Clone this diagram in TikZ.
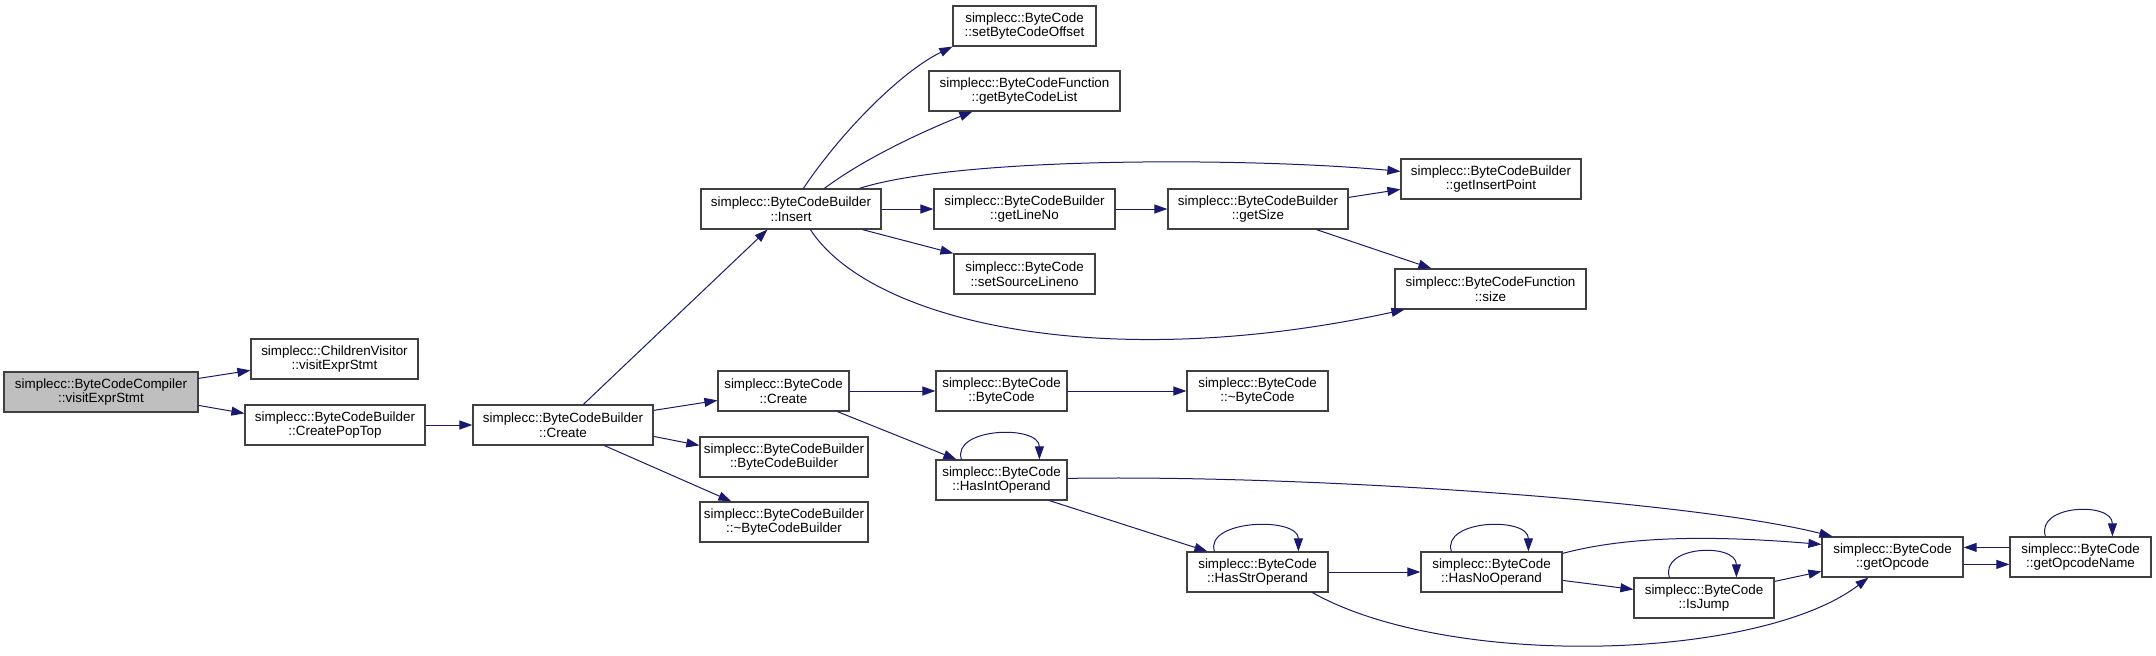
\documentclass[tikz,border=0pt]{standalone}
\usepackage{fontspec}
\setmainfont{Liberation Sans}
\usetikzlibrary{arrows.meta,calc}
\definecolor{edgeblue}{HTML}{191970}
\definecolor{boxline}{HTML}{404040}
\definecolor{boxfill}{HTML}{BFBFBF}
\begin{document}
\begin{tikzpicture}[x=1pt,y=-1pt,
  fn/.style={draw=boxline, line width=1.2pt, fill=white, rectangle, inner sep=0pt,
    minimum height=40pt, align=center, font=\fontsize{13.4}{14.6}\selectfont},
  cl/.style={draw=edgeblue, line width=1pt, -{Triangle[length=13pt,width=9pt]}}]
\useasboundingbox (0,0) rectangle (2156,656);
% nodes
\node[fn, fill=boxfill, minimum width=194pt] (cmp) at (101,392) {simplecc::ByteCodeCompiler\\::visitExprStmt};
\node[fn, minimum width=167pt] (cv) at (334.5,359) {simplecc::ChildrenVisitor\\::visitExprStmt};
\node[fn, minimum width=180pt] (cpt) at (335,425) {simplecc::ByteCodeBuilder\\::CreatePopTop};
\node[fn, minimum width=180pt] (bcr) at (563,425) {simplecc::ByteCodeBuilder\\::Create};
\node[fn, minimum width=180pt] (ins) at (791,209) {simplecc::ByteCodeBuilder\\::Insert};
\node[fn, minimum width=131pt] (bcc) at (783.5,391) {simplecc::ByteCode\\::Create};
\node[fn, minimum width=168pt] (bbb) at (784,457) {simplecc::ByteCodeBuilder\\::ByteCodeBuilder};
\node[fn, minimum width=168pt] (dbb) at (784,522) {simplecc::ByteCodeBuilder\\::\textasciitilde ByteCodeBuilder};
\node[fn, minimum width=143pt] (off) at (1024.5,26) {simplecc::ByteCode\\::setByteCodeOffset};
\node[fn, minimum width=191pt] (gbl) at (1024.5,91) {simplecc::ByteCodeFunction\\::getByteCodeList};
\node[fn, minimum width=181pt] (gln) at (1024.5,209) {simplecc::ByteCodeBuilder\\::getLineNo};
\node[fn, minimum width=141pt] (ssl) at (1024.5,274) {simplecc::ByteCode\\::setSourceLineno};
\node[fn, minimum width=131pt] (bcb) at (1001.5,391) {simplecc::ByteCode\\::ByteCode};
\node[fn, minimum width=131pt] (hio) at (1001.5,480) {simplecc::ByteCode\\::HasIntOperand};
\node[fn, minimum width=180pt] (gsz) at (1258,209) {simplecc::ByteCodeBuilder\\::getSize};
\node[fn, minimum width=141pt] (dbc) at (1257.5,391) {simplecc::ByteCode\\::\textasciitilde ByteCode};
\node[fn, minimum width=141pt] (hso) at (1257.5,572) {simplecc::ByteCode\\::HasStrOperand};
\node[fn, minimum width=180pt] (gip) at (1491,179) {simplecc::ByteCodeBuilder\\::getInsertPoint};
\node[fn, minimum width=191pt] (sz) at (1490.5,289) {simplecc::ByteCodeFunction\\::size};
\node[fn, minimum width=141pt] (hno) at (1491.5,572) {simplecc::ByteCode\\::HasNoOperand};
\node[fn, minimum width=140pt] (ij) at (1704,598) {simplecc::ByteCode\\::IsJump};
\node[fn, minimum width=141pt] (gop) at (1892.5,557) {simplecc::ByteCode\\::getOpcode};
\node[fn, minimum width=141pt] (gon) at (2080.5,557) {simplecc::ByteCode\\::getOpcodeName};
% edges
\draw[cl] ($(cmp.north east)+(0,7)$) -- ($(cv.north west)+(0,32)$);
\draw[cl] ($(cmp.north east)+(0,34)$) -- ($(cpt.north west)+(0,9)$);
\draw[cl] (cpt.east) -- (bcr.west);
\draw[cl] ($(bcr.north west)+(111,0)$) -- ($(ins.south west)+(67,0)$);
\draw[cl] ($(bcr.north east)+(0,6)$) -- ($(bcc.north west)+(0,30)$);
\draw[cl] ($(bcr.north east)+(0,32)$) -- ($(bbb.north west)+(0,9)$);
\draw[cl] ($(bcr.south west)+(132,0)$) -- ($(dbb.north west)+(32,0)$);
\draw[cl] ($(ins.north west)+(103,0)$) .. controls +(36,-54) and +(-53,26) .. (off.south west);
\draw[cl] ($(ins.north west)+(124,0)$) .. controls +(40,-30) and +(-50,20) .. ($(gbl.south west)+(44,0)$);
\draw[cl] ($(ins.north west)+(159,0)$) .. controls +(100,-32) and +(-151,-14) .. ($(gip.north west)+(0,13)$);
\draw[cl] (ins.east) -- (gln.west);
\draw[cl] ($(ins.south west)+(162,0)$) -- (ssl.north west);
\draw[cl] ($(ins.south west)+(110,0)$) .. controls +(59,91) and +(-305,66) .. ($(sz.south west)+(10,0)$);
\draw[cl] (gln.east) -- (gsz.west);
\draw[cl] ($(gsz.north east)+(0,9)$) -- ($(gip.north west)+(0,31)$);
\draw[cl] ($(gsz.south west)+(149,0)$) -- ($(sz.north west)+(37,0)$);
\draw[cl] (bcc.east) -- (bcb.west);
\draw[cl] (bcb.east) -- (dbc.west);
\draw[cl] ($(bcc.south west)+(120,0)$) -- ($(hio.north west)+(21,0)$);
\draw[cl] ($(hio.north west)+(26,0)$) .. controls +(-10,-32) and +(0,-35) .. ($(hio.north west)+(104,0)$);
\draw[cl] ($(hio.north east)+(0,19)$) .. controls +(233,-4) and +(-143,-36) .. ($(gop.north west)+(11,0)$);
\draw[cl] ($(hio.south west)+(114,0)$) -- ($(hso.north west)+(21,0)$);
\draw[cl] ($(hso.north west)+(28,0)$) .. controls +(-10,-32) and +(0,-35) .. ($(hso.north west)+(112,0)$);
\draw[cl] (hso.east) -- (hno.west);
\draw[cl] ($(hso.south west)+(126,0)$) .. controls +(137,77) and +(-109,83) .. ($(gop.south west)+(47,0)$);
\draw[cl] ($(hno.north west)+(31,0)$) .. controls +(-10,-32) and +(0,-35) .. ($(hno.north west)+(108,0)$);
\draw[cl] ($(hno.north east)+(0,2)$) .. controls +(60,-16) and +(-120,-10) .. ($(gop.north west)+(0,8)$);
\draw[cl] ($(hno.north east)+(0,29)$) -- ($(ij.north west)+(0,12)$);
\draw[cl] ($(ij.north west)+(36,0)$) .. controls +(-10,-32) and +(0,-35) .. ($(ij.north west)+(103,0)$);
\draw[cl] ($(ij.north east)+(0,4)$) -- ($(gop.north west)+(0,35)$);
\draw[cl] ($(gop.north east)+(0,28)$) -- ($(gon.north west)+(0,28)$);
\draw[cl] ($(gon.north west)+(0,11)$) -- ($(gop.north east)+(0,11)$);
\draw[cl] ($(gon.north west)+(36,0)$) .. controls +(-10,-32) and +(0,-35) .. ($(gon.north west)+(103,0)$);
\end{tikzpicture}
\end{document}
